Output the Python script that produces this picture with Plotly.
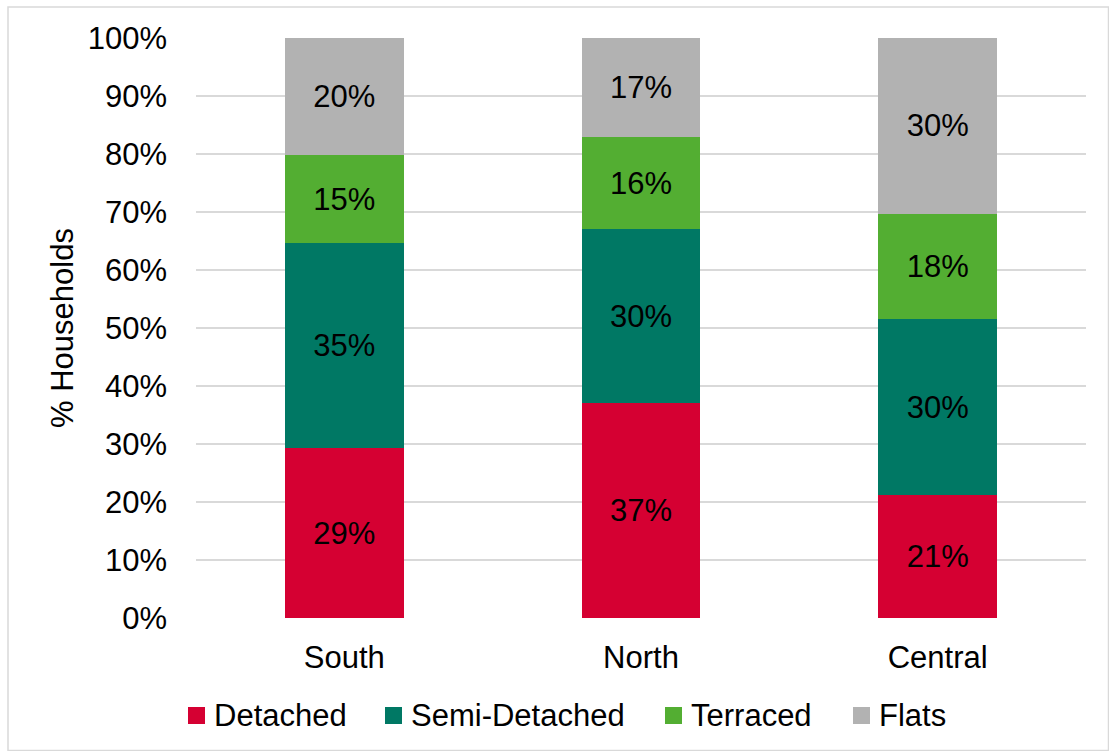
import plotly.graph_objects as go

# Household dwelling mix by area (labels are the rounded shares)
areas = ["South", "North", "Central"]
detached = [29, 37, 21]
semi_detached = [35, 30, 30]
terraced = [15, 16, 18]
flats = [20, 17, 30]

series = [
    ("Detached", detached, "#D50032"),
    ("Semi-Detached", semi_detached, "#007864"),
    ("Terraced", terraced, "#53AE32"),
    ("Flats", flats, "#B2B2B2"),
]

FONT = "Liberation Sans, Arial, sans-serif"
FS = 31

W, H = 1109, 751
L, R, T, B = 196, 23, 38, 133
pw, ph = W - L - R, H - T - B


def px_x(x):
    return (x - L) / pw


def px_y(y):
    return (T + ph - y) / ph


fig = go.Figure()
for name, vals, color in series:
    fig.add_trace(go.Bar(
        x=areas,
        y=vals,
        name=name,
        marker=dict(color=color, line=dict(width=0)),
        text=[f"{v}%" for v in vals],
        texttemplate="%{text}",
        textposition="inside",
        insidetextanchor="middle",
        constraintext="none",
        textfont=dict(family=FONT, size=FS, color="black"),
        showlegend=False,
    ))

# Legend row below the axis: square swatch + label for each series
legend_left = [188, 385, 665, 853]
sw = 17
ly = 715.5
shapes = []
annotations = []
for (name, _, color), x0 in zip(series, legend_left):
    shapes.append(dict(
        type="rect", xref="paper", yref="paper",
        x0=px_x(x0), x1=px_x(x0 + sw),
        y0=px_y(ly + sw / 2), y1=px_y(ly - sw / 2),
        fillcolor=color, line=dict(width=0),
    ))
    annotations.append(dict(
        text=name, xref="paper", yref="paper",
        x=px_x(x0 + sw + 7), y=px_y(ly),
        xanchor="left", yanchor="middle", showarrow=False,
        font=dict(family=FONT, size=FS, color="black"),
    ))

# Light outer frame
shapes.append(dict(
    type="rect", xref="paper", yref="paper",
    x0=px_x(8), x1=px_x(1108.5),
    y0=px_y(750.5), y1=px_y(7),
    line=dict(color="#D9D9D9", width=1.5),
    fillcolor="rgba(0,0,0,0)", layer="below",
))

fig.update_layout(
    width=W, height=H,
    margin=dict(l=L, r=R, t=T, b=B, pad=0),
    barmode="stack",
    barnorm="percent",
    bargap=0.6,
    paper_bgcolor="white",
    plot_bgcolor="white",
    font=dict(family=FONT, size=FS, color="black"),
    showlegend=False,
    xaxis=dict(
        showgrid=False, showline=False, zeroline=False,
        ticks="", ticklabelstandoff=18,
        tickfont=dict(family=FONT, size=FS, color="black"),
    ),
    yaxis=dict(
        range=[0, 100], dtick=10, ticksuffix="%",
        showgrid=True, gridcolor="#D9D9D9", gridwidth=2,
        zeroline=False, showline=False,
        ticks="", ticklabelstandoff=28,
        tickfont=dict(family=FONT, size=FS, color="black"),
        title=dict(text="% Households", standoff=4,
                   font=dict(family=FONT, size=FS, color="black")),
        automargin=False,
    ),
    shapes=shapes,
    annotations=annotations,
)

fig.write_html("out.html")
